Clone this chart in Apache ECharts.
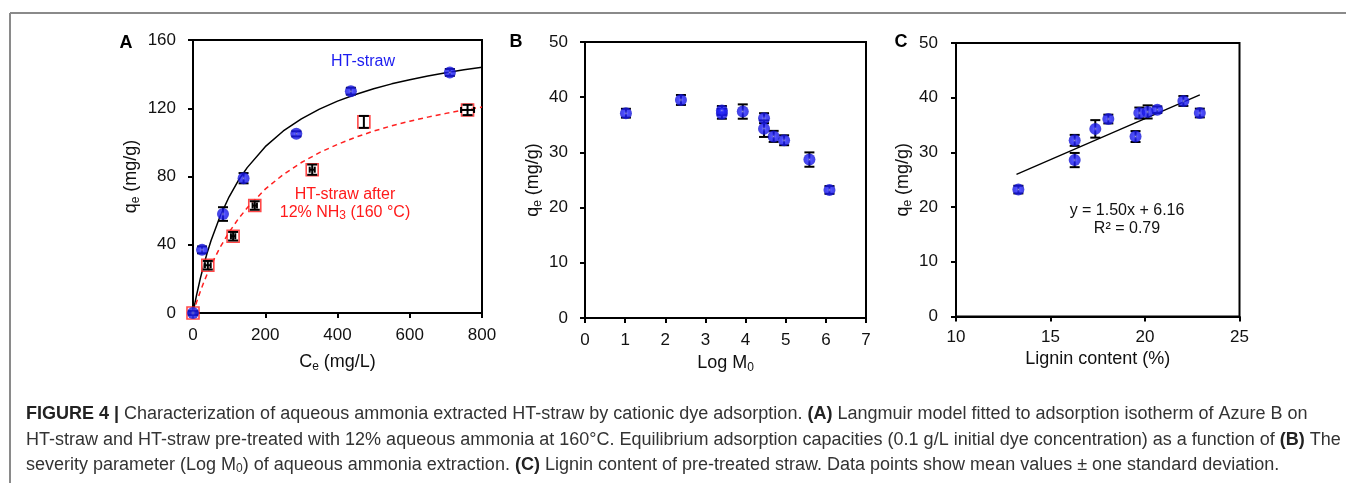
<!DOCTYPE html>
<html>
<head>
<meta charset="utf-8">
<script src="https://cdn.jsdelivr.net/npm/echarts@6/dist/echarts.min.js"></script>
<style>
html,body{margin:0;padding:0;background:#fff;}
#c{width:1346px;height:483px;}
</style>
</head>
<body>
<div id="c"></div>
<script>
// ---------- Panel A ----------
const aBlueX = [0, 25, 83, 140, 286, 437, 711];
const aBlueY = [0, 37, 58, 79, 105, 130, 141];
const aBlueErr = [1, 2, 4, 3, 1.5, 2, 2];
const aRedX = [0, 41, 111, 171, 330, 473, 760];
const aRedY = [0, 28, 45, 63, 84, 112, 119];
const aRedErrY = [1, 2.5, 2.5, 2.5, 3, 3.5, 3];
const aRedErrX = [0, 8, 6, 6, 7, 0, 18];
const aFitC = [0, 5, 10, 20, 30, 40, 50, 75, 100, 125, 150, 200, 250, 300, 350, 400, 450, 500, 550, 600, 650, 700, 750, 800];
const aFitBlack = [0, 5.5, 10.6, 20.0, 28.3, 35.8, 42.5, 56.7, 68.1, 77.5, 85.2, 97.5, 106.7, 113.8, 119.5, 124.2, 128.1, 131.4, 134.3, 136.7, 138.9, 140.8, 142.5, 144.0];
const aFitRed = [0, 3.3, 6.5, 12.5, 18.1, 23.2, 28.0, 38.5, 47.4, 55.0, 61.6, 72.6, 81.2, 88.2, 94.0, 98.8, 103.0, 106.6, 109.7, 112.4, 114.8, 117.0, 119.0, 120.7];
// ---------- Panel B ----------
const bX = [1.02, 2.39, 3.41, 3.41, 3.93, 4.46, 4.46, 4.70, 4.96, 5.59, 6.09];
const bY = [37.1, 39.5, 37.0, 37.6, 37.4, 36.2, 34.3, 32.9, 32.2, 28.7, 23.2];
const bErr = [0.8, 0.9, 0.9, 0.8, 1.3, 0.9, 1.5, 1.0, 0.9, 1.3, 0.7];
// ---------- Panel C ----------
const cX = [13.3, 16.28, 16.28, 17.37, 18.06, 19.5, 19.7, 20.14, 20.65, 22.03, 22.9];
const cY = [23.2, 28.6, 32.2, 34.3, 36.1, 32.9, 37.2, 37.4, 37.8, 39.4, 37.2];
const cErr = [0.7, 1.3, 1.0, 1.6, 0.8, 1.0, 1.0, 1.2, 0.6, 0.9, 0.8];
const cFitX = [13.2, 22.9];
const cFitY = [26.0, 40.5];
// ---------- Texts ----------
const panelLabels = ['A', 'B', 'C'];
const xTitles = ['C{sub|e} (mg/L)', 'Log M{sub|0}', 'Lignin content (%)'];
const yTitle = 'q{sub|e} (mg/g)';
const seriesLabelBlue = 'HT-straw';
const seriesLabelRed = ['HT-straw after', '12% NH{sub|3} (160 °C)'];
const eqText = ['y = 1.50x + 6.16', 'R² = 0.79'];
const captionLines = [
  '{b|FIGURE 4 |} Characterization of aqueous ammonia extracted HT-straw by cationic dye adsorption. {b|(A)} Langmuir model fitted to adsorption isotherm of Azure B on',
  'HT-straw and HT-straw pre-treated with 12% aqueous ammonia at 160°C. Equilibrium adsorption capacities (0.1 g/L initial dye concentration) as a function of {b|(B)} The',
  'severity parameter (Log M{s|0}) of aqueous ammonia extraction. {b|(C)} Lignin content of pre-treated straw. Data points show mean values ± one standard deviation.'
];

const FONT = '"Liberation Sans", Arial, sans-serif';
const zip = (xs, ys) => xs.map((x, i) => [x, ys[i]]);

function errRender(params, api) {
  const x = api.value(0), y = api.value(1), ey = api.value(2), ex = api.value(3);
  const cap = 5;
  const children = [];
  const st = () => ({ stroke: '#000', lineWidth: 2 });
  if (ey > 0) {
    const t = api.coord([x, y + ey]), b = api.coord([x, y - ey]);
    children.push({ type: 'line', shape: { x1: t[0], y1: t[1], x2: b[0], y2: b[1] }, style: st() });
    children.push({ type: 'line', shape: { x1: t[0] - cap, y1: t[1], x2: t[0] + cap, y2: t[1] }, style: st() });
    children.push({ type: 'line', shape: { x1: b[0] - cap, y1: b[1], x2: b[0] + cap, y2: b[1] }, style: st() });
  }
  if (ex > 0) {
    const l = api.coord([x - ex, y]), r = api.coord([x + ex, y]);
    children.push({ type: 'line', shape: { x1: l[0], y1: l[1], x2: r[0], y2: r[1] }, style: st() });
    children.push({ type: 'line', shape: { x1: l[0], y1: l[1] - 3, x2: l[0], y2: l[1] + 3 }, style: st() });
    children.push({ type: 'line', shape: { x1: r[0], y1: r[1] - 3, x2: r[0], y2: r[1] + 3 }, style: st() });
  }
  return { type: 'group', children };
}

const blueBall = {
  type: 'radial', x: 0.5, y: 0.5, r: 0.5,
  colorStops: [
    { offset: 0, color: '#d0d0ff' },
    { offset: 0.15, color: '#5050ff' },
    { offset: 0.4, color: '#1e1eff' },
    { offset: 1, color: '#1414d4' }
  ]
};

const grids = [
  { left: 193, top: 40, width: 289, height: 273 },
  { left: 585, top: 42, width: 281, height: 276 },
  { left: 956, top: 43, width: 283.5, height: 273.5 }
].map(g => Object.assign(g, { show: true, borderColor: '#000', borderWidth: 2, backgroundColor: 'transparent' }));

const axisLabelStyle = { color: '#111', fontSize: 17, fontFamily: FONT };
const subRich = { sub: { fontSize: 12, verticalAlign: 'bottom', padding: [9, 0, 0, 0], fontFamily: FONT, color: '#111' } };

function xAx(i, min, max, interval, gap, margin) {
  return {
    type: 'value', gridIndex: i, min, max, interval,
    axisLine: { show: true, onZero: false, lineStyle: { color: '#000', width: 2 } },
    axisTick: { show: true, length: 5, lineStyle: { color: '#000', width: 2 } },
    axisLabel: Object.assign({ margin }, axisLabelStyle),
    splitLine: { show: false },
    name: xTitles[i], nameLocation: 'middle', nameGap: gap,
    nameTextStyle: { color: '#111', fontSize: 18, fontFamily: FONT, rich: subRich }
  };
}
function yAx(i, min, max, interval, gap, margin) {
  return {
    type: 'value', gridIndex: i, min, max, interval,
    axisLine: { show: true, onZero: false, lineStyle: { color: '#000', width: 2 } },
    axisTick: { show: true, length: 5, lineStyle: { color: '#000', width: 2 } },
    axisLabel: Object.assign({ margin }, axisLabelStyle),
    splitLine: { show: false },
    name: yTitle, nameLocation: 'middle', nameGap: gap,
    nameTextStyle: { color: '#111', fontSize: 18, fontFamily: FONT, rich: subRich }
  };
}

const graphic = [
  { type: 'line', shape: { x1: 10, y1: 13, x2: 1346, y2: 13 }, style: { stroke: '#8a8a8a', lineWidth: 2 } },
  { type: 'line', shape: { x1: 10, y1: 13, x2: 10, y2: 483 }, style: { stroke: '#8a8a8a', lineWidth: 2 } },
  { type: 'text', x: 126, y: 43, style: { text: panelLabels[0], font: 'bold 18px ' + FONT, fill: '#000', align: 'center', verticalAlign: 'middle' } },
  { type: 'text', x: 516, y: 42, style: { text: panelLabels[1], font: 'bold 18px ' + FONT, fill: '#000', align: 'center', verticalAlign: 'middle' } },
  { type: 'text', x: 901, y: 42, style: { text: panelLabels[2], font: 'bold 18px ' + FONT, fill: '#000', align: 'center', verticalAlign: 'middle' } },
  { type: 'text', x: 363, y: 62, style: { text: seriesLabelBlue, font: '16px ' + FONT, fill: '#1c1cf0', align: 'center', verticalAlign: 'middle' } },
  { type: 'text', x: 345, y: 195, style: { text: seriesLabelRed[0], font: '16px ' + FONT, fill: '#ff1a1a', align: 'center', verticalAlign: 'middle' } },
  { type: 'text', x: 345, y: 213, style: { text: seriesLabelRed[1], font: '16px ' + FONT, fill: '#ff1a1a', align: 'center', verticalAlign: 'middle',
      rich: { sub: { fontSize: 12, fill: '#ff1a1a', fontFamily: FONT, padding: [5, 0, 0, 0] } } } },
  { type: 'text', x: 1127, y: 211, style: { text: eqText[0], font: '16px ' + FONT, fill: '#111', align: 'center', verticalAlign: 'middle' } },
  { type: 'text', x: 1127, y: 229, style: { text: eqText[1], font: '16px ' + FONT, fill: '#111', align: 'center', verticalAlign: 'middle' } }
];
const capY = [414, 440, 465];
captionLines.forEach((t, i) => {
  graphic.push({ type: 'text', x: 26, y: capY[i], style: {
    text: t, font: '18px ' + FONT, fill: '#333', verticalAlign: 'middle',
    rich: {
      b: { fontWeight: 'bold', fontSize: 18, fontFamily: FONT, fill: '#222' },
      s: { fontSize: 12, fontFamily: FONT, fill: '#333', padding: [8, 0, 0, 0] }
    }
  } });
});

const chart = echarts.init(document.getElementById('c'), null, { renderer: 'canvas' });
chart.setOption({
  animation: false,
  backgroundColor: '#fff',
  grid: grids,
  xAxis: [xAx(0, 0, 800, 200, 39, 14), xAx(1, 0, 7, 1, 32, 14), xAx(2, 10, 25, 5, 34, 12)],
  yAxis: [yAx(0, 0, 160, 40, 51, 17), yAx(1, 0, 50, 10, 41, 17), yAx(2, 0, 50, 10, 42, 18)],
  graphic,
  series: [
    { type: 'line', xAxisIndex: 0, yAxisIndex: 0, data: zip(aFitC, aFitBlack), smooth: false, showSymbol: false,
      lineStyle: { color: '#000', width: 1.5 }, z: 1 },
    { type: 'line', xAxisIndex: 0, yAxisIndex: 0, data: zip(aFitC, aFitRed), smooth: false, showSymbol: false,
      lineStyle: { color: '#ff2020', width: 1.5, type: [5, 4] }, z: 1 },
    { type: 'scatter', xAxisIndex: 0, yAxisIndex: 0, data: zip(aRedX, aRedY), symbol: 'rect', symbolSize: 12,
      itemStyle: { color: 'rgba(255,255,255,0.6)', borderColor: '#ff1a1a', borderWidth: 1.6 }, z: 2 },
    { type: 'custom', xAxisIndex: 0, yAxisIndex: 0, renderItem: errRender, encode: { x: 0, y: 1 },
      data: aRedX.map((x, i) => [x, aRedY[i], aRedErrY[i], aRedErrX[i]]), z: 3 },
    { type: 'custom', xAxisIndex: 0, yAxisIndex: 0, renderItem: errRender, encode: { x: 0, y: 1 },
      data: aBlueX.map((x, i) => [x, aBlueY[i], aBlueErr[i], 0]), z: 3 },
    { type: 'scatter', xAxisIndex: 0, yAxisIndex: 0, data: zip(aBlueX, aBlueY), symbol: 'circle', symbolSize: 12,
      itemStyle: { color: blueBall }, z: 4 },

    { type: 'custom', xAxisIndex: 1, yAxisIndex: 1, renderItem: errRender, encode: { x: 0, y: 1 },
      data: bX.map((x, i) => [x, bY[i], bErr[i], 0]), z: 3 },
    { type: 'scatter', xAxisIndex: 1, yAxisIndex: 1, data: zip(bX, bY), symbol: 'circle', symbolSize: 12,
      itemStyle: { color: blueBall }, z: 4 },

    { type: 'line', xAxisIndex: 2, yAxisIndex: 2, data: zip(cFitX, cFitY), showSymbol: false,
      lineStyle: { color: '#000', width: 1.3 }, z: 1 },
    { type: 'custom', xAxisIndex: 2, yAxisIndex: 2, renderItem: errRender, encode: { x: 0, y: 1 },
      data: cX.map((x, i) => [x, cY[i], cErr[i], 0]), z: 3 },
    { type: 'scatter', xAxisIndex: 2, yAxisIndex: 2, data: zip(cX, cY), symbol: 'circle', symbolSize: 12,
      itemStyle: { color: blueBall }, z: 4 }
  ]
});
</script>
</body>
</html>
